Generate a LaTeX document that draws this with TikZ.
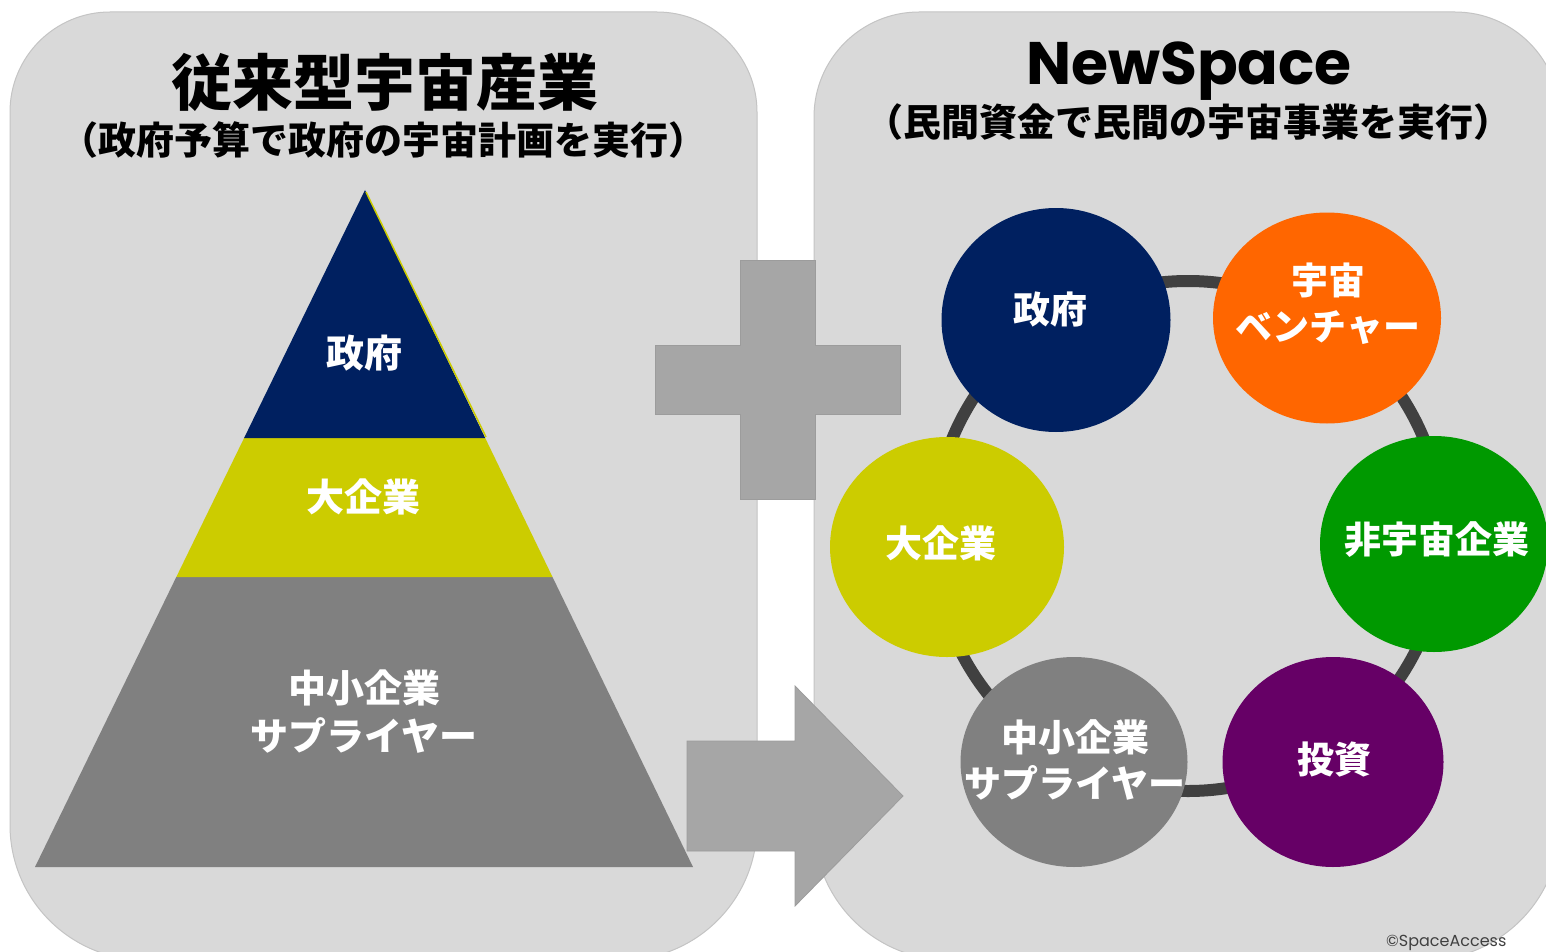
\documentclass[tikz,border=0pt]{standalone}
\usepackage{fontspec}
\newfontfamily\jp{Noto Sans CJK JP}
\newfontfamily\pop{Poppins}
\usetikzlibrary{shapes.geometric}
\definecolor{panelgray}{HTML}{D9D9D9}
\definecolor{paneledge}{HTML}{C4C4C4}
\definecolor{plusgray}{HTML}{A6A6A6}
\definecolor{plusedge}{HTML}{9C9C9C}
\definecolor{navy}{HTML}{002060}
\definecolor{olive}{HTML}{CCCC00}
\definecolor{midgray}{HTML}{808080}
\definecolor{vorange}{HTML}{FF6600}
\definecolor{vgreen}{HTML}{009900}
\definecolor{vpurple}{HTML}{660066}
\definecolor{ringgray}{HTML}{404040}
\definecolor{copygray}{HTML}{404040}
\tikzset{
  panel/.style={fill=panelgray, draw=paneledge, line width=1pt},
  bigshape/.style={fill=plusgray, draw=plusedge, line width=0.8pt},
  ringline/.style={draw=ringgray, line width=12pt},
  blob/.style={ellipse, draw=none, inner sep=0pt},
  wtext/.style={text=white, align=center, font=\jp\bfseries\fontsize{37}{46}\selectfont},
  ptext/.style={text=white, align=center, font=\jp\bfseries\fontsize{38}{48}\selectfont},
  title/.style={text=black, font=\jp\bfseries\fontsize{61}{64}\selectfont},
  subtitle/.style={text=black, font=\jp\bfseries\fontsize{38}{40}\selectfont},
}
\begin{document}
\begin{tikzpicture}[x=1pt,y=-1pt]
\useasboundingbox (0,0) rectangle (1546,952);
\fill[white] (0,0) rectangle (1546,952);
% panels
\path[panel] (10,825) -- (10,112) arc(180:270:100) -- (657,12) arc(270:360:100)
  -- (757,825) arc(0:90:135) -- (145,960) arc(90:180:135) -- cycle;
\path[panel] (814,825) -- (814,117) arc(180:270:105) -- (1455,12) arc(270:360:105)
  -- (1560,825) arc(0:90:135) -- (949,960) arc(90:180:135) -- cycle;
% titles
\node[title] (lt) at (385,82) {従来型宇宙産業};
\node[subtitle] (ls) at (383,140) {（政府予算で政府の宇宙計画を実行）};
\node[text=black, font=\pop\bfseries\fontsize{60}{64}\selectfont, anchor=base] (rt) at (1189,85) {NewSpace};
\node[subtitle] (rs) at (1188,122) {（民間資金で民間の宇宙事業を実行）};
% pyramid
\fill[midgray] (176.3,577) -- (552.5,577) -- (693,867) -- (35,867) -- cycle;
\fill[olive] (244.1,438) -- (485.2,438) -- (552.5,577) -- (176.3,577) -- cycle;
\fill[navy] (365,190) -- (485.2,438) -- (244.1,438) -- cycle;
\draw[olive, line width=1.5pt] (366,192) -- (486,437);
\node[ptext] (pgov) at (364,353) {政府};
\node[ptext] (pbig) at (363,497) {大企業};
\node[ptext] (psme) at (364,712) {中小企業\\サプライヤー};
% plus sign
\path[bigshape] (740,260) -- (815,260) -- (815,345) -- (900,345) -- (900,414) -- (815,414)
  -- (815,499) -- (740,499) -- (740,414) -- (655,414) -- (655,345) -- (740,345) -- cycle;
% arrow
\path[bigshape] (687,741) -- (795,741) -- (795,686) -- (903,796) -- (795,906) -- (795,851)
  -- (687,851) -- cycle;
% ring
\coordinate (ringc) at (1188,536);
\draw[ringline] (ringc) circle [radius=255];
% ellipses
\node[blob, fill=navy, minimum width=229pt, minimum height=224pt] (gov) at (1056,320) {};
\node[blob, fill=vorange, minimum width=228pt, minimum height=211pt] (ven) at (1327,318) {};
\node[blob, fill=olive, minimum width=234pt, minimum height=220pt] (big) at (947,547) {};
\node[blob, fill=vgreen, minimum width=228pt, minimum height=216pt] (non) at (1434,544) {};
\node[blob, fill=midgray, minimum width=227pt, minimum height=210pt] (sme) at (1074,762) {};
\node[blob, fill=vpurple, minimum width=221pt, minimum height=210pt] (inv) at (1333,762) {};
% ellipse texts
\node[wtext] (govt) at (1050,310) {政府};
\node[wtext] (vent) at (1328,304) {宇宙\\ベンチャー};
\node[wtext] (bigt) at (941,543) {大企業};
\node[wtext] (nont) at (1437,540) {非宇宙企業};
\node[wtext] (smet) at (1075,760) {中小企業\\サプライヤー};
\node[wtext] (invt) at (1334,760) {投資};
% copyright
\node[text=copygray, font=\pop\fontsize{16}{18}\selectfont, anchor=base west, inner sep=0pt] (copy) at (1386,946) {©SpaceAccess};
\end{tikzpicture}
\end{document}
